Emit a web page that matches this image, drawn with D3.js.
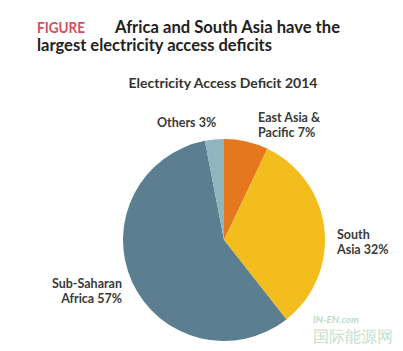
<!DOCTYPE html>
<html>
<head>
<meta charset="utf-8">
<script src="https://cdn.jsdelivr.net/npm/d3@7"></script>
<style>
  body { margin: 0; background: #fff; }
  text { font-family: Lato, "Open Sans", sans-serif; }
</style>
</head>
<body>
<div id="chart"></div>
<script>
// data
const regions = ["East Asia & Pacific", "South Asia", "Sub-Saharan Africa", "Others"];
const shares = [7, 32, 57, 3];
const labelLines = [
  ["East Asia &", "Pacific 7%"],
  ["South", "Asia 32%"],
  ["Sub-Saharan", "Africa 57%"],
  ["Others 3%"]
];
const colors = ["#e5771e", "#f3bd1e", "#5b7f90", "#8fb5bf"];

const width = 403, height = 351;
const cx = 224, cy = 240, radius = 101;

const svg = d3.select("#chart").append("svg")
  .attr("width", width)
  .attr("height", height);

// titles
svg.append("text")
  .attr("x", 37)
  .attr("y", 33)
  .attr("font-size", 15)
  .attr("font-weight", "bold")
  .attr("fill", "#d2505c")
  .attr("textLength", 48)
  .attr("lengthAdjust", "spacingAndGlyphs")
  .text("FIGURE");

svg.append("text")
  .attr("x", 115)
  .attr("y", 33)
  .attr("font-size", 16.5)
  .attr("font-weight", "bold")
  .attr("fill", "#222")
  .attr("textLength", 225)
  .attr("lengthAdjust", "spacingAndGlyphs")
  .text("Africa and South Asia have the");

svg.append("text")
  .attr("x", 37)
  .attr("y", 51)
  .attr("font-size", 16.5)
  .attr("font-weight", "bold")
  .attr("fill", "#222")
  .attr("textLength", 235)
  .attr("lengthAdjust", "spacingAndGlyphs")
  .text("largest electricity access deficits");

svg.append("text")
  .attr("x", 223)
  .attr("y", 88)
  .attr("text-anchor", "middle")
  .attr("font-size", 14)
  .attr("font-weight", "bold")
  .attr("fill", "#333")
  .text("Electricity Access Deficit 2014");

// pie
const pie = d3.pie().sort(null).value(d => d);
const arc = d3.arc().innerRadius(0).outerRadius(radius);
const arcs = pie(shares);

const g = svg.append("g").attr("transform", "translate(" + cx + "," + cy + ")");
g.selectAll("path")
  .data(arcs)
  .enter().append("path")
   .attr("d", arc)
   .attr("fill", (d, i) => colors[i]);

// labels beside each slice
const labelPos = [
  { x: 258, y: 122, anchor: "start" },
  { x: 337, y: 239, anchor: "start" },
  { x: 122, y: 288, anchor: "end" },
  { x: 157, y: 127, anchor: "start" }
];

svg.selectAll("text.slice")
  .data(arcs)
  .enter().append("text")
   .attr("class", "slice")
   .attr("font-size", 12.5)
   .attr("font-weight", "bold")
   .attr("fill", "#3a3a3a")
   .attr("text-anchor", (d, i) => labelPos[i].anchor)
   .each(function(d, i) {
     const t = d3.select(this);
     labelLines[i].forEach(function(line, j) {
       t.append("tspan")
        .attr("x", labelPos[i].x)
        .attr("y", labelPos[i].y + j * 15)
        .text(line);
     });
   });

// watermark
svg.append("text")
  .attr("x", 313).attr("y", 323)
  .attr("font-size", 10).attr("font-style", "italic").attr("font-weight", "bold")
  .attr("fill", "#bcdcc8")
  .text("IN-EN.com");
svg.append("text")
  .attr("x", 313).attr("y", 342)
  .attr("font-size", 16)
  .attr("font-family", "Noto Sans CJK SC")
  .attr("fill", "#c4e0cf")
  .text("国际能源网");
</script>
</body>
</html>
